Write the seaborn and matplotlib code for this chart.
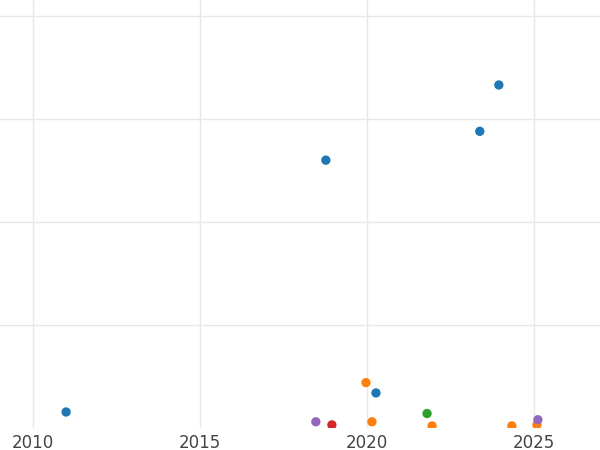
import matplotlib
matplotlib.use("Agg")
import matplotlib.pyplot as plt
import seaborn as sns
import pandas as pd

years = [2010.99, 2018.77, 2023.38, 2023.95, 2020.27,
         2019.97, 2020.15, 2021.95, 2024.34, 2025.09,
         2021.80, 2018.47, 2025.12, 2018.95]
values = [0.155, 2.60, 2.88, 3.33, 0.34,
          0.44, 0.06, 0.02, 0.02, 0.03,
          0.14, 0.06, 0.08, 0.03]
groups = ["A"] * 5 + ["B"] * 5 + ["C", "D", "D", "E"]
palette = {"A": "#1f77b4", "B": "#ff7f0e", "C": "#2ca02c", "D": "#9467bd", "E": "#d62728"}

df = pd.DataFrame({"year": years, "value": values, "group": groups})

sns.set_style("white")
fig = plt.figure(figsize=(6, 4.5), dpi=100)
ax = fig.add_axes([0, 0.049, 1, 0.951])
sns.scatterplot(data=df, x="year", y="value", hue="group", palette=palette,
                s=45, edgecolor="none", legend=False, ax=ax)
ax.set_xlim(2009.01, 2026.98)
ax.set_ylim(0, 4.155)
ax.set_xticks([2010, 2015, 2020, 2025])
ax.set_yticks([1, 2, 3, 4])
ax.set_yticklabels([])
ax.tick_params(axis="y", length=0)
ax.tick_params(axis="x", length=0, labelsize=12, labelcolor="#444444", pad=4)
ax.grid(True, color="#e8e8e8", linewidth=1)
ax.set_axisbelow(True)
for s in ax.spines.values():
    s.set_visible(False)
ax.set_xlabel("")
ax.set_ylabel("")
fig.savefig("out.png", dpi=100)
